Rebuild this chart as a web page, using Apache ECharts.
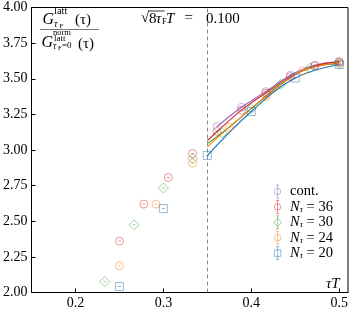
<!DOCTYPE html>
<html><head><meta charset="utf-8">
<script src="https://cdn.jsdelivr.net/npm/echarts@6/dist/echarts.min.js"></script>
<style>html,body{margin:0;padding:0;background:#fff}#c{width:353px;height:312px}</style>
</head><body><div id="c"></div>
<script>
// ---- data ----
const xTickValues = [0.2, 0.3, 0.4, 0.5];
const cutoff = 0.35;

const contX = [0.3611, 0.3889, 0.4167, 0.4444, 0.4722, 0.5];
const contY = [3.165, 3.30, 3.41, 3.525, 3.595, 3.617];

const n36X = [0.25, 0.2778, 0.3056, 0.3333, 0.3611, 0.3889, 0.4167, 0.4444, 0.4722, 0.5];
const n36Y = [2.361, 2.62, 2.807, 2.975, 3.13, 3.28, 3.40, 3.515, 3.59, 3.62];
const n36LineStart = 3.065;

const n30X = [0.2333, 0.2667, 0.3, 0.3333, 0.3667, 0.4, 0.4333, 0.4667, 0.5];
const n30Y = [2.077, 2.475, 2.733, 2.94, 3.12, 3.29, 3.46, 3.575, 3.605];
const n30LineStart = 3.045;

const n24X = [0.25, 0.2917, 0.3333, 0.375, 0.4167, 0.4583, 0.5];
const n24Y = [2.187, 2.62, 2.908, 3.16, 3.375, 3.556, 3.61];
const n24LineStart = 3.022;

const n20X = [0.25, 0.3, 0.35, 0.4, 0.45, 0.5];
const n20Y = [2.042, 2.589, 2.961, 3.27, 3.505, 3.60];
const n20LineStart = 2.961;

// ---- styling ----
const FONT = "'Liberation Serif', 'DejaVu Serif', serif";
const COL = {cont:'#9467bd', n36:'#d62728', n30:'#2ca02c', n24:'#ff7f0e', n20:'#1f77b4'};
function rgba(hex, a){const n=parseInt(hex.slice(1),16);return `rgba(${n>>16},${(n>>8)&255},${n&255},${a})`;}

const SYM_CIRCLE = 'path://M0,5a5,5 0 1,0 10,0a5,5 0 1,0 -10,0M3,5L7,5';
const SYM_DIAMOND = 'path://M5,0L10,5L5,10L0,5ZM3.5,5L6.5,5';
const SYM_SQUARE = 'path://M0,0L10,0L10,10L0,10ZM3,5L7,5';
const LEG_CIRCLE = 'path://M1,8a4,4 0 1,0 8,0a4,4 0 1,0 -8,0M5,0L5,16M3,0L7,0M3,16L7,16';
const LEG_DIAMOND = 'path://M5,3L10,8L5,13L0,8ZM5,0L5,16M3,0L7,0M3,16L7,16';
const LEG_SQUARE = 'path://M1,4L9,4L9,12L1,12ZM5,0L5,16M3,0L7,0M3,16L7,16';

function pts(xs, ys){return xs.map((x,i)=>[x, ys[i]]);}
function linePts(xs, ys, start){
  const out = [];
  if (start !== null) out.push([cutoff, start]);
  xs.forEach((x,i)=>{ if (x > cutoff + 1e-6) out.push([x, ys[i]]); });
  return out;
}

function scatter(name, xs, ys, color, symbol, size){
  return {type:'scatter', name, data: pts(xs, ys), symbol, symbolSize: size, z: 5,
    itemStyle:{color:'transparent', borderColor: rgba(color,0.6), borderWidth:1}};
}
function line(name, data, color){
  return {type:'line', name, data, smooth:0.4, showSymbol:false, symbol:'none', z:3,
    lineStyle:{color, width:1.1}, silent:true};
}

const series = [
  line('fit-cont', linePts(contX, contY, null), COL.cont),
  line('fit-36', linePts(n36X, n36Y, n36LineStart), COL.n36),
  line('fit-30', linePts(n30X, n30Y, n30LineStart), COL.n30),
  line('fit-24', linePts(n24X, n24Y, n24LineStart), COL.n24),
  line('fit-20', linePts(n20X, n20Y, n20LineStart), COL.n20),
  Object.assign(scatter('cont.', contX, contY, COL.cont, SYM_CIRCLE, 8), {
    markLine:{silent:true, symbol:'none', label:{show:false},
      lineStyle:{color:'#888', type:[4,3], width:1},
      data:[{xAxis: cutoff}]}
  }),
  scatter('N36', n36X, n36Y, COL.n36, SYM_CIRCLE, 8),
  scatter('N30', n30X, n30Y, COL.n30, SYM_DIAMOND, 10),
  scatter('N24', n24X, n24Y, COL.n24, SYM_CIRCLE, 8),
  scatter('N20', n20X, n20Y, COL.n20, SYM_SQUARE, 8),
];

const legendData = [
  {name:'cont.', icon: LEG_CIRCLE, itemStyle:{color:'transparent', borderColor: rgba(COL.cont,0.6), borderWidth:1}},
  {name:'N36', icon: LEG_CIRCLE, itemStyle:{color:'transparent', borderColor: rgba(COL.n36,0.6), borderWidth:1}},
  {name:'N30', icon: LEG_DIAMOND, itemStyle:{color:'transparent', borderColor: rgba(COL.n30,0.6), borderWidth:1}},
  {name:'N24', icon: LEG_CIRCLE, itemStyle:{color:'transparent', borderColor: rgba(COL.n24,0.6), borderWidth:1}},
  {name:'N20', icon: LEG_SQUARE, itemStyle:{color:'transparent', borderColor: rgba(COL.n20,0.6), borderWidth:1}},
];

function txt(text, x, y, size, opts){
  return {type:'text', x, y, z:10, silent:true,
    style:Object.assign({text, fontFamily: FONT, fontSize: size, fill:'#000', align:'left', verticalAlign:'middle'}, opts||{})};
}

const graphic = [
  // y label fraction: numerator
  txt('G', 42.5, 19.5, 16, {fontStyle:'italic'}),
  txt('latt', 54, 11.5, 10.5),
  txt('τ', 54, 24, 10, {fontStyle:'italic'}),
  txt('F', 59.5, 26, 7),
  txt('(τ)', 75, 20, 15),
  {type:'line', shape:{x1:40, y1:29.5, x2:99, y2:29.5}, style:{stroke:'#555', lineWidth:0.8}, silent:true, z:10},
  // denominator
  txt('G', 41.5, 43, 16, {fontStyle:'italic'}),
  txt('norm', 53, 33, 8.5),
  txt('latt', 54, 38.5, 9),
  txt('τ', 53, 46, 9.5, {fontStyle:'italic'}),
  txt('F', 58, 48, 6.5),
  txt('=0', 62, 46, 9),
  txt('(τ)', 78, 44, 15),
  // annotation sqrt(8 tau_F) T = 0.100
  txt('√', 141, 18.5, 15),
  {type:'line', shape:{x1:149, y1:11, x2:164.5, y2:11}, style:{stroke:'#000', lineWidth:0.8}, silent:true, z:10},
  txt('8', 149, 19, 15),
  txt('τ', 156, 19, 15, {fontStyle:'italic'}),
  txt('F', 162, 22, 8.5),
  txt('T', 166, 19, 15, {fontStyle:'italic'}),
  txt('=', 184.5, 18.5, 15),
  txt('0.100', 206, 19, 15),
  // x axis label
  txt('τT', 326, 284, 15, {fontStyle:'italic'}),
];

const option = {
  animation:false,
  backgroundColor:'#fff',
  grid:{left:31.5, right:5, top:7.5, bottom:19.5, show:true, borderColor:'#000', borderWidth:1, backgroundColor:'transparent'},
  xAxis:{type:'value', min:0.15, max:0.51,
    axisLine:{show:true, lineStyle:{color:'#000', width:1}},
    axisTick:{show:true, inside:true, length:4, customValues:xTickValues, lineStyle:{color:'#000'}},
    axisLabel:{show:true, customValues:xTickValues, margin:4, color:'#000', fontFamily:FONT, fontSize:14,
      formatter:v=>String(Math.round(v*10)/10)},
    splitLine:{show:false}},
  yAxis:{type:'value', min:2, max:4, interval:0.25,
    axisLine:{show:true, lineStyle:{color:'#000', width:1}},
    axisTick:{show:true, inside:true, length:4, lineStyle:{color:'#000'}},
    axisLabel:{margin:4, color:'#000', fontFamily:FONT, fontSize:14, formatter:v=>v.toFixed(2)},
    splitLine:{show:false}},
  legend:{orient:'vertical', left:268, top:179, itemWidth:9, itemHeight:13, itemGap:0.4,
    data:legendData, selectedMode:false,
    textStyle:{fontFamily:FONT, fontSize:14.5, color:'#000', padding:[0,0,0,3], lineHeight:14,
      rich:{
        r:{fontFamily:FONT, fontSize:14.5, color:'#000', lineHeight:14},
        i:{fontFamily:FONT, fontSize:14.5, fontStyle:'italic', color:'#000', lineHeight:14},
        s:{fontFamily:FONT, fontSize:9, fontStyle:'italic', color:'#000', lineHeight:9, padding:[5,0,0,0]}
      }},
    formatter: name => name === 'cont.' ? '{r|cont.}' : '{i|N}{s|τ}{r| = ' + name.slice(1) + '}'
  },
  graphic,
  series
};
const chart = echarts.init(document.getElementById('c'), null, {renderer:'canvas'});
chart.setOption(option);
</script></body></html>
